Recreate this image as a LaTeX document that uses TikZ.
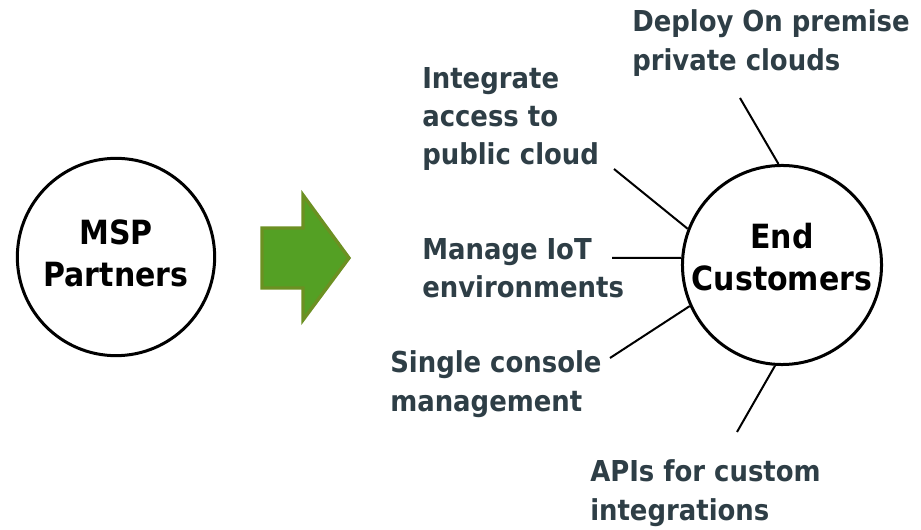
\documentclass[tikz,border=0pt]{standalone}
\usepackage{fontspec}
\setmainfont{DejaVu Sans Condensed}
\usepackage{tikz}
\usetikzlibrary{positioning}
\usepackage{xcolor}
\definecolor{mspgreen}{RGB}{84,160,36}
\definecolor{mspolive}{RGB}{108,144,34}
\definecolor{mspslate}{RGB}{46,62,70}
\tikzstyle{party} = [circle, draw=black, line width=2.25pt, minimum size=148pt, inner sep=0pt, align=center, font=\fontsize{25}{32}\selectfont\bfseries]
\tikzstyle{feature} = [anchor=west, inner sep=0pt, align=left, text=mspslate, font=\fontsize{21.6}{28.8}\selectfont\bfseries]
\tikzstyle{spoke} = [line width=1.5pt, color=black]

\begin{document}
\begin{tikzpicture}[x=0.75pt, y=-0.75pt]
\useasboundingbox (0,0) rectangle (921,530);

% Partners and customers
\node[party, text depth=6pt] (msp) at (116,257) {MSP\\Partners};
\node[party, text depth=12pt] (ec) at (782,265) {End\\Customers};

% Big arrow
\filldraw[fill=mspgreen, draw=mspolive, line width=2.5pt, line join=miter]
  (262,228) -- (303,228) -- (303,195) -- (349,258) -- (303,320) -- (303,288) -- (262,288) -- cycle;

% Offerings
\node[feature] (deploy) at (632,43) {Deploy On premise\\private clouds};
\node[feature] (integ) at (422,119) {Integrate\\access to\\public cloud};
\node[feature] (iot) at (422,268) {Manage IoT\\environments};
\node[feature] (single) at (390,384) {Single console\\management};
\node[feature] (apis) at (590,493) {APIs for custom\\integrations};

% Spokes
\coordinate (deployend) at (740,98);
\coordinate (integend) at (614,169);
\coordinate (iotend) at (612,258);
\coordinate (singleend) at (610,358);
\coordinate (apisend) at (737,432);
\draw[spoke] (deployend) -- (ec.92);
\draw[spoke] (integend) -- (ec.159);
\draw[spoke] (iotend) -- (ec.176);
\draw[spoke] (singleend) -- (ec.204);
\draw[spoke] (apisend) -- (ec.266);
\end{tikzpicture}
\end{document}
